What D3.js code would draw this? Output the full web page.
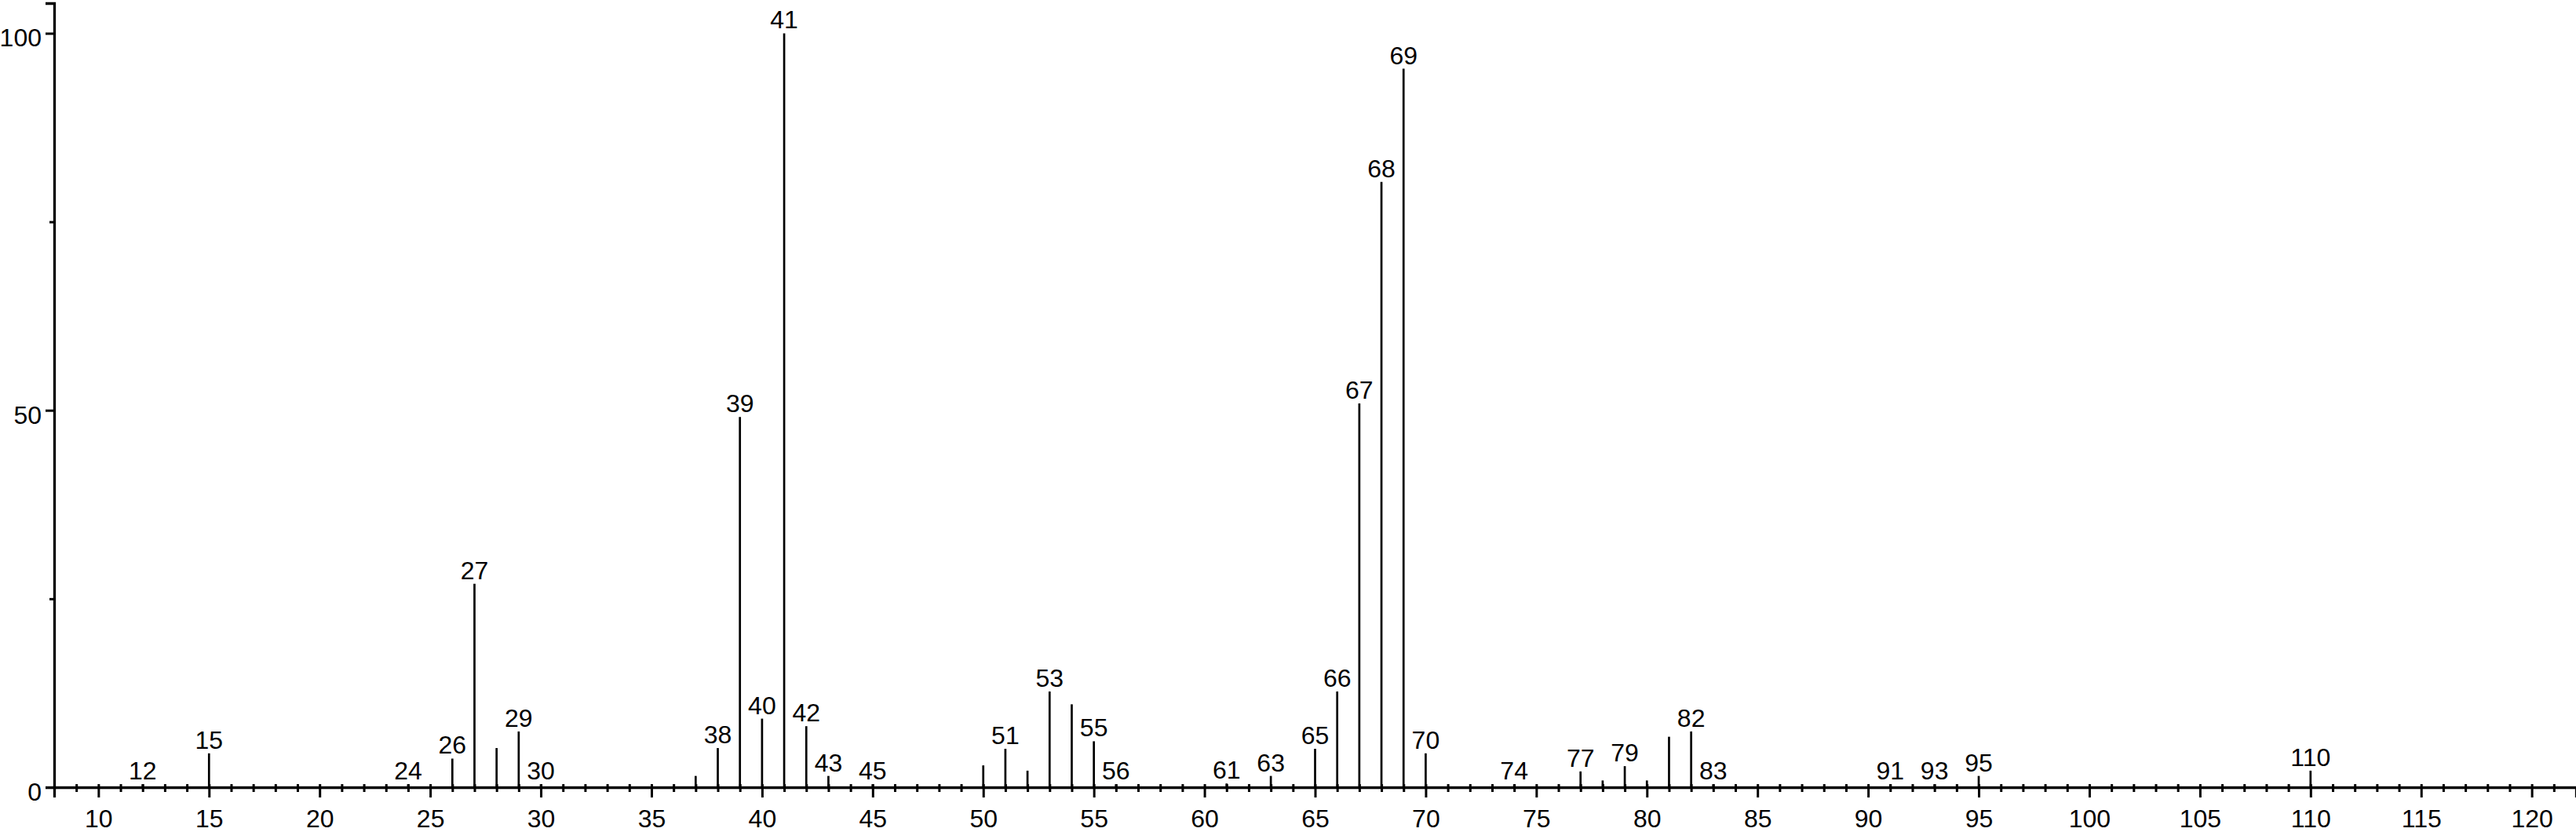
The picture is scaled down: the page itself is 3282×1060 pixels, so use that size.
<!DOCTYPE html>
<html>
<head>
<meta charset="utf-8">
<script src="https://cdn.jsdelivr.net/npm/d3@7"></script>
<style>
  html, body { margin: 0; padding: 0; background: #fff; }
  svg { display: block; }
  text { font-family: "Liberation Sans", Arial, Helvetica, sans-serif; fill: #000; }
</style>
</head>
<body>
<svg id="chart" width="3282" height="1060"></svg>
<script>
// m/z values of the peaks
const mz = [12, 15, 24, 26, 27, 28, 29, 30, 37, 38, 39, 40, 41, 42, 43, 45,
            50, 51, 52, 53, 54, 55, 56, 61, 63, 65, 66, 67, 68, 69, 70,
            74, 77, 78, 79, 80, 81, 82, 83, 91, 93, 95, 110];
// relative intensities (%)
const intensity = [0.4, 4.5, 0.4, 3.8, 27.0, 5.2, 7.4, 0.4, 1.5, 5.2, 49.1, 9.1, 100, 8.1, 1.5, 0.4,
                   2.9, 5.1, 2.2, 12.7, 11.0, 6.1, 0.4, 0.5, 1.5, 5.1, 12.7, 50.9, 80.3, 95.3, 4.5,
                   0.4, 2.1, 0.9, 2.8, 0.9, 6.7, 7.4, 0.4, 0.4, 0.4, 1.5, 2.2];
// peaks carrying an m/z label
const labeled = [12, 15, 24, 26, 27, 29, 30, 38, 39, 40, 41, 42, 43, 45, 51, 53, 55, 56,
                 61, 63, 65, 66, 67, 68, 69, 70, 74, 77, 79, 82, 83, 91, 93, 95, 110];
// axis ticks
const xMajorTicks = [10, 15, 20, 25, 30, 35, 40, 45, 50, 55, 60, 65, 70, 75, 80, 85, 90, 95, 100, 105, 110, 115, 120];
const xMinorTicks = d3.range(9, 122);
const yMajorTicks = [0, 50, 100];
const yMinorTicks = [25, 75];

const peaks = mz.map((m, i) => ({ mz: m, val: intensity[i], lab: labeled.includes(m) }));

const svg = d3.select("#chart");
const x = d3.scaleLinear().domain([8, 122]).range([69, 3282]);
const y = d3.scaleLinear().domain([0, 104]).range([1003, 4]);

const FONT = 32;
const AX_W = 3.3;

// X axis: minor ticks
const gxMinor = svg.append("g").attr("transform", `translate(0,${y(0)})`)
  .call(d3.axisBottom(x).tickValues(xMinorTicks.filter(v => !xMajorTicks.includes(v))).tickFormat("").tickSizeOuter(0));
gxMinor.select(".domain").remove();
gxMinor.selectAll(".tick line").attr("y1", -4).attr("y2", 6).attr("stroke-width", 3).attr("stroke", "#000");

// X axis: major ticks + labels
const gx = svg.append("g").attr("transform", `translate(0,${y(0)})`)
  .call(d3.axisBottom(x).tickValues(xMajorTicks).tickFormat(d3.format("d")).tickSizeOuter(0).tickSize(13).tickPadding(10));
gx.select(".domain").attr("stroke", "#000").attr("stroke-width", AX_W);
gx.selectAll(".tick line").attr("y1", -4).attr("y2", 13).attr("stroke-width", 3).attr("stroke", "#000");
gx.selectAll(".tick text").attr("font-size", FONT).attr("font-family", null).attr("dy", null).attr("y", 51);

// Y axis: minor
const gyMinor = svg.append("g").attr("transform", `translate(${x(8)},0)`)
  .call(d3.axisLeft(y).tickValues(yMinorTicks).tickFormat("").tickSizeOuter(0).tickSize(6));
gyMinor.select(".domain").remove();
gyMinor.selectAll(".tick line").attr("stroke-width", 3).attr("stroke", "#000");

// Y axis: major
const gy = svg.append("g").attr("transform", `translate(${x(8)},0)`)
  .call(d3.axisLeft(y).tickValues(yMajorTicks).tickFormat(d3.format("d")).tickSizeOuter(0).tickSize(11).tickPadding(5));
gy.select(".domain").attr("stroke", "#000").attr("stroke-width", AX_W);
gy.selectAll(".tick line").attr("stroke-width", 3).attr("stroke", "#000");
gy.selectAll(".tick text").attr("font-size", FONT).attr("font-family", null).attr("dy", null).attr("y", 16.5);
gy.selectAll("text").attr("font-family", null);
gx.selectAll("text").attr("font-family", null);
gy.attr("font-family", null);
gx.attr("font-family", null);

// Peak sticks
svg.append("g").selectAll("line").data(peaks).join("line")
  .attr("x1", d => x(d.mz)).attr("x2", d => x(d.mz))
  .attr("y1", y(0)).attr("y2", d => y(d.val))
  .attr("stroke", "#000").attr("stroke-width", 2.7);

// Peak labels
svg.append("g").selectAll("text").data(peaks.filter(d => d.lab)).join("text")
  .attr("x", d => x(d.mz))
  .attr("y", d => y(d.val) - 6)
  .attr("text-anchor", "middle")
  .attr("font-size", FONT)
  .text(d => d.mz);
</script>
</body>
</html>
